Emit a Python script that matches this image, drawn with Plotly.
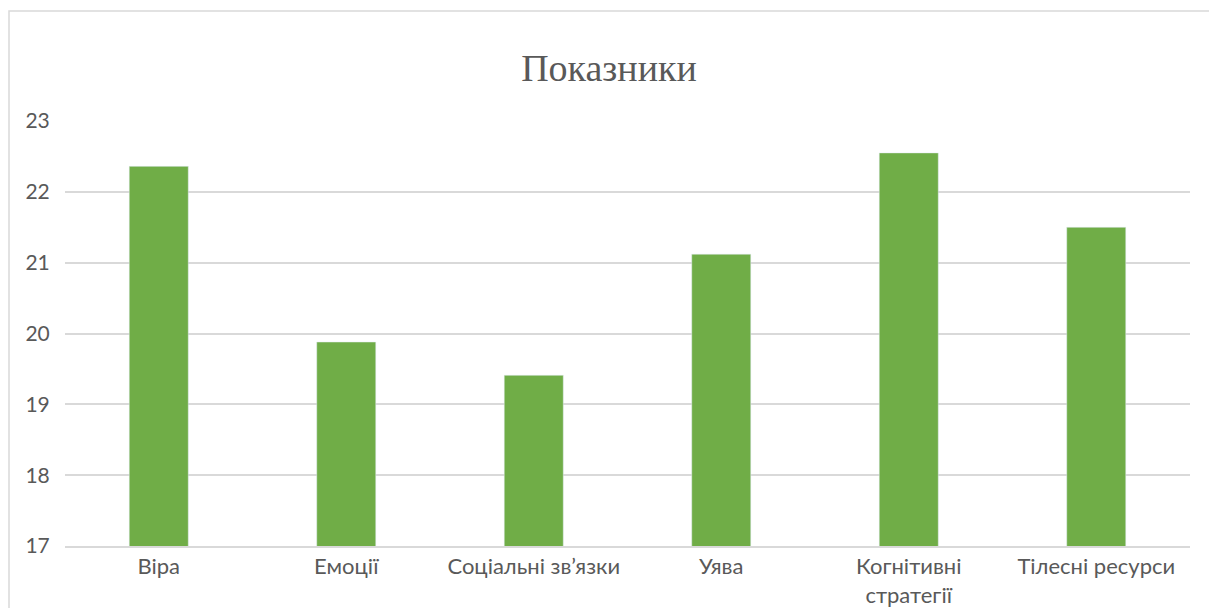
import plotly.graph_objects as go

categories = ["Віра", "Емоції", "Соціальні зв’язки", "Уява", "Когнітивні<br>стратегії", "Тілесні ресурси"]
values = [22.36, 19.88, 19.41, 21.12, 22.55, 21.50]
y_ticks = [17, 18, 19, 20, 21, 22, 23]

# page body has an 8px margin; offsets below are in figure coordinates
L, R, T, B = 57, 35, 113, 70
W, H = 1217, 608
pw, ph = W - L - R, H - T - B

fig = go.Figure(go.Bar(x=categories, y=values, marker_color="#70AD47", width=0.315))

fig.update_layout(
    width=W, height=H,
    margin=dict(l=L, r=R, t=T, b=B, pad=0, autoexpand=False),
    paper_bgcolor="white", plot_bgcolor="white",
    title=dict(text="Показники", x=601 / W, xanchor="center", y=1 - 60 / H, yanchor="middle",
               font=dict(family="Liberation Serif", size=38, color="#595959")),
    font=dict(family="Lato", size=20, color="#595959"),
    showlegend=False,
    xaxis=dict(showgrid=False, showline=True, linecolor="#D9D9D9", linewidth=1.5, automargin=False,
               ticks="", tickfont=dict(size=22, color="#595959")),
    yaxis=dict(range=[17, 23], tickvals=y_ticks, showgrid=True, gridcolor="#D9D9D9", gridwidth=1.5,
               automargin=False,
               zeroline=False, showline=False, ticks="outside", ticklen=10, tickcolor="white",
               tickfont=dict(size=21, color="#595959")),
)

fig.add_shape(type="rect", xref="paper", yref="paper",
              x0=(1 - L) / pw, x1=(1202 - L) / pw,
              y0=-0.3, y1=(H - B - 3) / ph,
              line=dict(color="#D9D9D9", width=1.5), fillcolor="rgba(0,0,0,0)", layer="below")

fig.write_html("out.html")
